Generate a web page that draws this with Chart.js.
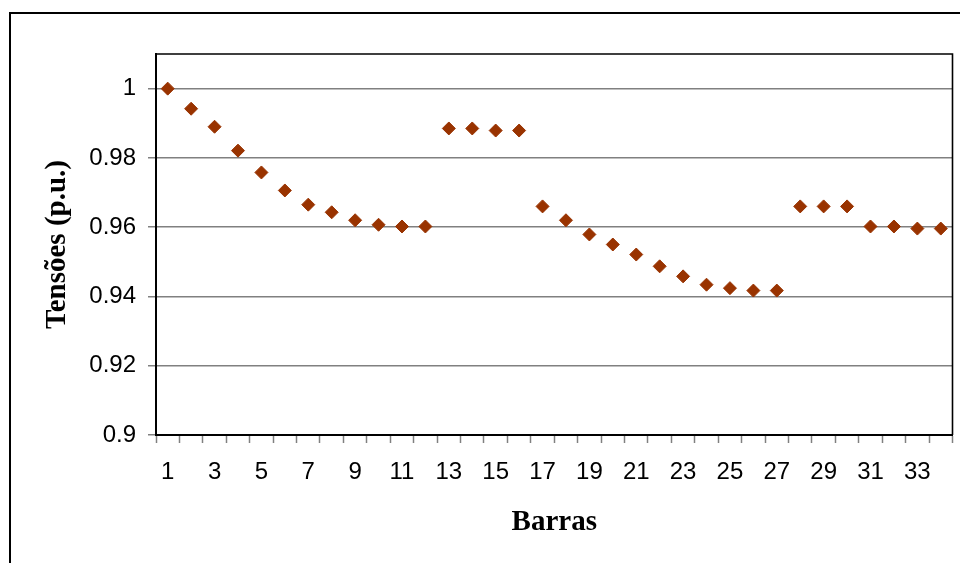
<!DOCTYPE html>
<html>
<head>
<meta charset="utf-8">
<script src="https://cdn.jsdelivr.net/npm/chart.js@4.4.1/dist/chart.umd.min.js"></script>
<style>
  html, body { margin: 0; padding: 0; background: #fff; overflow: hidden; }
  #wrap { width: 960px; height: 563px; position: relative; }
</style>
</head>
<body>
<div id="wrap"><canvas id="c" width="960" height="563"></canvas></div>
<script>
// Bus numbers (Barras) and per-unit voltage at each bus
const barras = ['1','2','3','4','5','6','7','8','9','10','11','12','13','14','15','16','17',
                '18','19','20','21','22','23','24','25','26','27','28','29','30','31','32','33','34'];
const tensoes = [1.0000, 0.9942, 0.9890, 0.9821, 0.9758, 0.9706, 0.9665, 0.9643, 0.9620, 0.9607,
                 0.9602, 0.9602, 0.9885, 0.9885, 0.9879, 0.9879, 0.9660, 0.9620, 0.9579, 0.9550,
                 0.9521, 0.9487, 0.9458, 0.9434, 0.9424, 0.9417, 0.9417, 0.9660, 0.9660, 0.9660,
                 0.9602, 0.9602, 0.9596, 0.9596];
const yMin = 0.9, yMax = 1.01, yStep = 0.02;

// Outer chart frame and the closed border around the plot area
const frames = {
  id: 'frames',
  beforeDraw(chart) {
    const ctx = chart.ctx;
    ctx.save();
    ctx.strokeStyle = '#000';
    ctx.lineWidth = 2;
    ctx.strokeRect(10, 13, 1200, 1200);
    ctx.restore();
  },
  afterDatasetsDraw(chart) {
    const {ctx, chartArea: a} = chart;
    ctx.save();
    ctx.strokeStyle = '#000';
    ctx.lineWidth = 1.6;
    ctx.beginPath();
    ctx.moveTo(a.left, a.top);
    ctx.lineTo(a.right, a.top);
    ctx.lineTo(a.right, a.bottom);
    ctx.stroke();
    ctx.restore();
  }
};

new Chart(document.getElementById('c'), {
  type: 'line',
  data: {
    labels: barras,
    datasets: [{
      data: tensoes,
      showLine: false,
      pointStyle: 'rectRot',
      pointRadius: 6.5,
      pointHoverRadius: 6.5,
      pointBorderWidth: 1,
      pointBackgroundColor: '#993300',
      pointBorderColor: '#993300'
    }]
  },
  options: {
    responsive: false,
    animation: false,
    events: [],
    layout: { padding: { left: 0, top: 54, right: 7, bottom: 0 } },
    plugins: { legend: { display: false }, tooltip: { enabled: false } },
    scales: {
      x: {
        type: 'category',
        offset: true,
        grid: {
          offset: true,
          drawOnChartArea: false,
          drawTicks: true,
          tickLength: 8,
          tickColor: '#808080',
          tickWidth: 1.5
        },
        border: { color: '#000', width: 2 },
        ticks: {
          autoSkip: false,
          maxRotation: 0,
          padding: 15,
          color: '#000',
          font: { family: 'Liberation Sans, Arial, sans-serif', size: 24 },
          callback: (v, i) => (i % 2 === 0 ? barras[i] : '')
        },
        title: {
          display: true,
          text: 'Barras',
          color: '#000',
          font: { family: 'Liberation Serif, Times New Roman, serif', size: 29, weight: 'bold' },
          padding: { top: 0, bottom: 23 }
        },
        afterFit(s) { s.height = 128; }
      },
      y: {
        min: yMin,
        max: yMax,
        grid: {
          color: '#808080',
          lineWidth: 1.5,
          tickLength: 8,
          tickColor: '#808080'
        },
        border: { color: '#000', width: 2 },
        ticks: {
          stepSize: yStep,
          includeBounds: false,
          padding: 12,
          color: '#000',
          font: { family: 'Liberation Sans, Arial, sans-serif', size: 24 },
          callback: v => String(Math.round(v * 100) / 100)
        },
        title: {
          display: true,
          text: 'Tensões (p.u.)',
          color: '#000',
          font: { family: 'Liberation Serif, Times New Roman, serif', size: 29, weight: 'bold' },
          padding: { top: 40, bottom: 0 }
        },
        afterFit(s) { s.width = 156; }
      }
    }
  },
  plugins: [frames]
});
</script>
</body>
</html>
